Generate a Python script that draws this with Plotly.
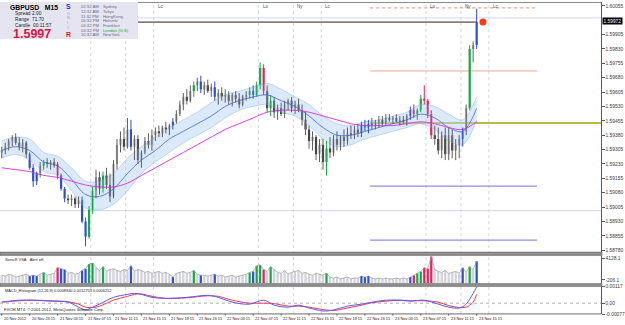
import plotly.graph_objects as go

# ------------------------------------------------------------------ data
symbol = "GBPUSD"
timeframe = "M15"
last_price_text = "1.5997"
spread = "2.00"
day_range = "71.70"
candle_timer = "00:11:57"

# 30-minute candles (two M15 bars each), 20 Nov 2012 ~19:00 -> 23 Nov 2012 15:15
opens = [1.5929,1.5930,1.5932,1.5935,1.5937,1.5934,1.5932,1.5934,1.5928,1.5921,
1.5914,1.5918,1.5922,1.5924,1.5923,1.5924,1.5923,1.5917,1.5910,1.5905,
1.5904,1.5905,1.5902,1.5904,1.5893,1.5885,1.5899,1.5909,1.5916,1.5910,
1.5917,1.5912,1.5906,1.5923,1.5933,1.5936,1.5932,1.5941,1.5932,1.5936,
1.5925,1.5929,1.5935,1.5933,1.5938,1.5940,1.5939,1.5942,1.5941,1.5943,
1.5945,1.5949,1.5954,1.5958,1.5956,1.5961,1.5964,1.5966,1.5962,1.5964,
1.5961,1.5963,1.5958,1.5960,1.5958,1.5959,1.5956,1.5959,1.5957,1.5954,
1.5958,1.5959,1.5961,1.5959,1.5964,1.5973,1.5961,1.5952,1.5956,1.5950,
1.5952,1.5949,1.5954,1.5956,1.5952,1.5954,1.5951,1.5946,1.5941,1.5935,
1.5937,1.5928,1.5933,1.5924,1.5931,1.5929,1.5936,1.5933,1.5937,1.5935,
1.5939,1.5938,1.5941,1.5939,1.5943,1.5942,1.5944,1.5943,1.5945,1.5946,
1.5944,1.5947,1.5946,1.5947,1.5945,1.5946,1.5945,1.5948,1.5951,1.5949,
1.5951,1.5957,1.5956,1.5949,1.5938,1.5936,1.5930,1.5938,1.5928,1.5938,
1.5930,1.5933,1.5936,1.5940,1.5952,1.5983,1.5985]
highs = [1.5932,1.5934,1.5936,1.5938,1.5939,1.5937,1.5936,1.5935,1.5929,1.5923,
1.5919,1.5924,1.5925,1.5926,1.5925,1.5926,1.5924,1.5918,1.5911,1.5907,
1.5907,1.5906,1.5906,1.5906,1.5895,1.5901,1.5911,1.5920,1.5919,1.5919,
1.5921,1.5918,1.5925,1.5936,1.5940,1.5942,1.5947,1.5946,1.5938,1.5938,
1.5930,1.5937,1.5939,1.5941,1.5942,1.5943,1.5943,1.5945,1.5944,1.5947,
1.5951,1.5956,1.5960,1.5962,1.5964,1.5966,1.5968,1.5969,1.5966,1.5967,
1.5965,1.5966,1.5962,1.5963,1.5962,1.5961,1.5960,1.5961,1.5960,1.5959,
1.5961,1.5963,1.5964,1.5966,1.5976,1.5975,1.5964,1.5959,1.5958,1.5954,
1.5955,1.5956,1.5957,1.5958,1.5956,1.5957,1.5954,1.5950,1.5943,1.5940,
1.5938,1.5936,1.5936,1.5935,1.5937,1.5938,1.5940,1.5938,1.5941,1.5942,
1.5943,1.5943,1.5944,1.5945,1.5946,1.5946,1.5947,1.5946,1.5948,1.5948,
1.5949,1.5949,1.5948,1.5949,1.5948,1.5948,1.5949,1.5953,1.5954,1.5952,
1.5959,1.5964,1.5957,1.5951,1.5943,1.5942,1.5940,1.5942,1.5942,1.5941,
1.5936,1.5938,1.5942,1.5954,1.5985,1.5987,1.6004]
lows = [1.5926,1.5928,1.5930,1.5932,1.5933,1.5930,1.5929,1.5926,1.5920,1.5911,
1.5912,1.5916,1.5920,1.5921,1.5920,1.5921,1.5915,1.5909,1.5903,1.5902,
1.5901,1.5900,1.5900,1.5892,1.5880,1.5884,1.5897,1.5905,1.5907,1.5908,
1.5910,1.5903,1.5905,1.5920,1.5929,1.5930,1.5931,1.5930,1.5925,1.5923,
1.5921,1.5928,1.5931,1.5930,1.5935,1.5937,1.5937,1.5939,1.5938,1.5941,
1.5944,1.5948,1.5951,1.5954,1.5955,1.5958,1.5961,1.5960,1.5959,1.5960,
1.5958,1.5956,1.5954,1.5956,1.5955,1.5954,1.5953,1.5955,1.5952,1.5953,
1.5956,1.5957,1.5957,1.5958,1.5962,1.5959,1.5950,1.5948,1.5947,1.5946,
1.5948,1.5947,1.5951,1.5950,1.5949,1.5950,1.5943,1.5938,1.5931,1.5930,
1.5925,1.5924,1.5920,1.5917,1.5926,1.5927,1.5930,1.5930,1.5932,1.5933,
1.5936,1.5936,1.5937,1.5937,1.5940,1.5939,1.5941,1.5941,1.5942,1.5943,
1.5943,1.5945,1.5944,1.5945,1.5943,1.5944,1.5943,1.5946,1.5947,1.5946,
1.5950,1.5954,1.5947,1.5936,1.5933,1.5928,1.5926,1.5925,1.5925,1.5926,
1.5925,1.5926,1.5932,1.5938,1.5951,1.5976,1.5983]
closes = [1.5930,1.5932,1.5935,1.5937,1.5934,1.5932,1.5934,1.5928,1.5921,1.5914,
1.5918,1.5922,1.5924,1.5923,1.5924,1.5922,1.5917,1.5910,1.5905,1.5904,
1.5905,1.5902,1.5904,1.5893,1.5885,1.5899,1.5909,1.5916,1.5910,1.5917,
1.5912,1.5906,1.5923,1.5933,1.5936,1.5932,1.5941,1.5932,1.5936,1.5925,
1.5929,1.5935,1.5933,1.5938,1.5940,1.5939,1.5942,1.5941,1.5943,1.5945,
1.5949,1.5954,1.5958,1.5956,1.5961,1.5964,1.5966,1.5962,1.5964,1.5961,
1.5963,1.5958,1.5960,1.5958,1.5959,1.5956,1.5959,1.5957,1.5954,1.5958,
1.5959,1.5961,1.5959,1.5964,1.5973,1.5961,1.5952,1.5956,1.5950,1.5952,
1.5949,1.5954,1.5956,1.5952,1.5954,1.5951,1.5946,1.5941,1.5935,1.5937,
1.5928,1.5933,1.5924,1.5931,1.5929,1.5936,1.5933,1.5937,1.5935,1.5939,
1.5938,1.5941,1.5939,1.5943,1.5942,1.5944,1.5943,1.5945,1.5946,1.5944,
1.5947,1.5946,1.5947,1.5945,1.5946,1.5945,1.5948,1.5951,1.5949,1.5951,
1.5957,1.5956,1.5949,1.5938,1.5936,1.5930,1.5938,1.5928,1.5938,1.5930,
1.5933,1.5936,1.5940,1.5952,1.5983,1.5985,1.5997]

# Sonic R VSA bar signal per candle: n = none, b = blue, g = green, r = red
vsa = ("nnnnnnnn" "bbb" "n" "g" "nnn" "r" "bb" "nnnn" "bb" "gg" "nn" "g"
       "nnnnnnn" "b" "nnnnnnnnnnn" "b" "nnnnn" "g" "n" "b" "nnn" "b"
       "nnnnnnnnn" "g" "b" "gg" "r" "n" "g" "nnnnnnnnnnnnnnn" "g"
       "nnnnnnnnn" "bbb" "nnnnnnnnnnn" "b" "r" "gg" "rrr" "nnnnnnnn"
       "b" "n" "g" "n" "b")

volume = [736,548,924,736,359,548,736,924,548,736,
548,924,1301,736,924,1113,2243,2055,1866,1113,
1301,924,1113,1678,2055,2997,3185,2243,1678,2432,
1490,1866,2055,1678,1490,1866,1678,2620,1490,1866,
1678,1301,1490,1113,1301,1490,1113,1301,924,359,
1113,1301,1490,1113,1301,1678,924,736,736,548,
736,924,548,736,359,548,736,359,548,736,
924,1301,1490,2620,2808,1866,1490,2432,1866,1301,
1113,1678,924,1301,1490,1678,1113,1301,924,736,
1113,924,736,1113,359,171,359,-18,171,359,
-18,171,171,548,359,548,171,-18,171,-18,
171,-18,-18,171,-18,171,-18,359,736,1113,
1490,2243,2055,4504,1866,1490,1301,1678,1113,1301,
1490,1113,2243,1301,2432,1866,3562]

# moving averages sampled every 4th candle
ma_idx = [0,4,8,12,16,20,24,28,32,36,40,44,48,52,56,60,64,68,72,76,80,84,
          88,92,96,100,104,108,112,116,120,124,128,132,136]
ma_fast = [1.5930,1.5932,1.5930,1.5924,1.5922,1.5915,1.5907,1.5906,1.5910,1.5918,
           1.5925,1.5930,1.5936,1.5940,1.5944,1.5948,1.5953,1.5956,1.5958,1.5959,
           1.5956,1.5953,1.5948,1.5942,1.5938,1.5938,1.5940,1.5942,1.5944,1.5946,
           1.5949,1.5947,1.5942,1.5940,1.5952]
band_up = [1.5935,1.5937,1.5936,1.5929,1.5927,1.5921,1.5914,1.5914,1.5918,1.5926,
           1.5932,1.5937,1.5942,1.5946,1.5950,1.5955,1.5959,1.5961,1.5963,1.5965,
           1.5962,1.5958,1.5954,1.5948,1.5944,1.5943,1.5945,1.5946,1.5948,1.5950,
           1.5954,1.5953,1.5949,1.5946,1.5958]
band_dn = [1.5926,1.5928,1.5925,1.5919,1.5917,1.5909,1.5900,1.5899,1.5902,1.5909,
           1.5918,1.5924,1.5929,1.5934,1.5938,1.5942,1.5947,1.5951,1.5953,1.5954,
           1.5950,1.5948,1.5943,1.5936,1.5932,1.5933,1.5936,1.5938,1.5940,1.5942,
           1.5944,1.5941,1.5935,1.5933,1.5946]
ma_slow = [1.5921,1.5920,1.5919,1.5917,1.5916,1.5914,1.5912,1.5911,1.5911,1.5913,
           1.5917,1.5921,1.5925,1.5929,1.5933,1.5937,1.5941,1.5944,1.5947,1.5950,
           1.5951,1.5951,1.5950,1.5948,1.5946,1.5944,1.5943,1.5943,1.5943,1.5944,
           1.5945,1.5944,1.5942,1.5941,1.5945]

macd_idx = [0,5,9,14,19,22,24,26,28,32,36,38,40,43,47,53,59,62,66,71,75,78,82,85,
            88,92,95,99,103,106,110,114,117,121,125,128,131,133,134,135,136]
macd_main = [0.00007,0.00021,0.00021,0.00014,0.00007,-0.00028,-0.00048,-0.00028,
             -0.00007,0.00041,0.00062,0.00069,0.00062,0.00041,0.00034,0.00041,
             0.00055,0.00041,0.00007,-0.00007,0.00021,-0.00014,-0.00028,-0.00014,
             -0.00034,-0.00055,-0.00048,-0.00021,-0.00007,0.00007,0.00021,0.00021,
             0.00014,0.00021,-0.00007,-0.00028,-0.00034,-0.00007,0.00028,0.00069,
             0.00116]
macd_signal = [0.00007,0.00017,0.00021,0.00017,0.00010,-0.00007,-0.00028,-0.00031,
               -0.00021,0.00021,0.00048,0.00062,0.00065,0.00048,0.00034,0.00038,
               0.00052,0.00048,0.00021,0.00000,0.00000,-0.00003,-0.00021,-0.00021,
               -0.00028,-0.00045,-0.00052,-0.00034,-0.00014,0.00003,0.00014,0.00021,
               0.00017,0.00017,0.00007,-0.00017,-0.00031,-0.00028,-0.00014,0.00007,
               0.00062]

price_ticks = [1.58780,1.58855,1.58930,1.59005,1.59080,1.59155,1.59230,1.59305,
               1.59380,1.59455,1.59530,1.59605,1.59680,1.59755,1.59830,1.59905,
               1.59980,1.60055]
time_labels = ["20 Nov 2012","20 Nov 23:15","21 Nov 03:15","21 Nov 07:15","21 Nov 11:15",
               "21 Nov 15:15","21 Nov 19:15","21 Nov 23:15","22 Nov 03:15","22 Nov 07:15",
               "22 Nov 11:15","22 Nov 15:15","22 Nov 19:15","22 Nov 23:15","23 Nov 03:15",
               "23 Nov 07:15","23 Nov 11:15","23 Nov 15:15"]
time_label_bars = [1,17,33,49,65,81,97,113,129,145,161,177,193,209,225,241,257,273]

sessions = [("Lo",52),("Ny",72),("Lc",88),("Lo",148),("Ny",168),("Lc",184),
            ("Lo",244),("Ny",264),("Lc",280)]
pivot_levels = [1.60044, 1.59715, 1.59443, 1.59114, 1.58832]
ask_price = 1.59992
level_line = 1.58986
bid_label = "1.59972"

clock_times = ["02:32 AM","12:32 AM","11:32 PM","05:32 PM","04:32 PM","03:32 PM","10:32 AM"]
clock_cities = ["Sydney","Tokyo","HongKong","Helsinki","Frankfurt","London (G.S)","NewYork"]

# ------------------------------------------------------------------ geometry helpers
W, H = 625, 325
BARPX = 1.746
XMAX = 601 / BARPX
PMAX = 1.60075
PMIN = PMAX - 253.5 * 0.00005138
VMIN, VMAX = -959.8, 4693.3
FONT = "Liberation Sans"


def fx(x):
    return x / W


def fy(y):
    return 1 - y / H


n = len(closes)
xb = [1 + 2 * i for i in range(n)]
codes = (vsa + "n" * n)[:n]
SIG = {"b": "#2f4fd6", "g": "#17a84a", "r": "#e2245c"}

fig = go.Figure()

# ---- blue envelope and moving averages
ma_x = [xb[i] for i in ma_idx]
fig.add_trace(go.Scatter(x=ma_x, y=band_dn, mode="lines", line=dict(color="rgba(140,182,238,0.85)", width=0.6, shape="spline"),
                         xaxis="x", yaxis="y", hoverinfo="skip"))
fig.add_trace(go.Scatter(x=ma_x, y=band_up, mode="lines", fill="tonexty", fillcolor="rgba(180,211,246,0.48)",
                         line=dict(color="rgba(140,182,238,0.85)", width=0.6, shape="spline"),
                         xaxis="x", yaxis="y", hoverinfo="skip"))
fig.add_trace(go.Scatter(x=ma_x, y=ma_fast, mode="lines", line=dict(color="#5672e0", width=0.9, shape="spline"),
                         xaxis="x", yaxis="y", hoverinfo="skip"))
fig.add_trace(go.Scatter(x=ma_x, y=ma_slow, mode="lines", line=dict(color="#e03ee6", width=1, shape="spline"),
                         xaxis="x", yaxis="y", hoverinfo="skip"))

# ---- bid line to last candle and red marker
fig.add_trace(go.Scatter(x=[0, xb[-1]], y=[closes[-1], closes[-1]], mode="lines",
                         line=dict(color="#8a7c7c", width=1.6), xaxis="x", yaxis="y", hoverinfo="skip"))

# ---- candles: wicks
groups = {}
for i in range(n):
    k = codes[i] if codes[i] in SIG else "n"
    groups.setdefault(k, ([], []))
    groups[k][0].extend([xb[i], xb[i], None])
    groups[k][1].extend([lows[i], highs[i], None])
for k, (gx, gy) in groups.items():
    fig.add_trace(go.Scatter(x=gx, y=gy, mode="lines", line=dict(color=SIG.get(k, "#5e5e5e"), width=1),
                             xaxis="x", yaxis="y", hoverinfo="skip"))

# ---- candles: bodies
body_base, body_h, body_col = [], [], []
for i in range(n):
    o, c = opens[i], closes[i]
    body_base.append(min(o, c))
    body_h.append(max(abs(c - o), 0.00003))
    if codes[i] in SIG:
        body_col.append(SIG[codes[i]])
    else:
        body_col.append("#a6a6a6" if c >= o else "#333333")
fig.add_trace(go.Bar(x=xb, y=body_h, base=body_base, width=1.25, marker=dict(color=body_col, line=dict(width=0)),
                     xaxis="x", yaxis="y", hoverinfo="skip"))

fig.add_trace(go.Scatter(x=[xb[-1] + 3.6], y=[closes[-1]], mode="markers",
                         marker=dict(color="#ff3a1a", size=7), xaxis="x", yaxis="y", hoverinfo="skip"))

# ---- volume panel
vcol = [SIG.get(c, "#d2d2dc") for c in codes]
fig.add_trace(go.Bar(x=xb, y=[v - VMIN for v in volume], base=VMIN, width=1.3,
                     marker=dict(color=vcol, line=dict(width=0)), xaxis="x2", yaxis="y2", hoverinfo="skip"))
fig.add_trace(go.Scatter(x=xb, y=volume, mode="lines", line=dict(color="#9a9a9a", width=0.7),
                         xaxis="x2", yaxis="y2", hoverinfo="skip"))

# ---- MACD panel
mx = [xb[i] for i in macd_idx]
fig.add_trace(go.Scatter(x=mx, y=macd_signal, mode="lines", line=dict(color="#f03a4e", width=1, shape="spline"),
                         xaxis="x3", yaxis="y3", hoverinfo="skip"))
fig.add_trace(go.Scatter(x=mx, y=macd_main, mode="lines", line=dict(color="#5a5af2", width=1, shape="spline"),
                         xaxis="x3", yaxis="y3", hoverinfo="skip"))

# ------------------------------------------------------------------ shapes
shapes = []
# session separators (dotted, full height)
for name, b in sessions:
    shapes.append(dict(type="line", xref="x", yref="paper", x0=b, x1=b, y0=fy(317), y1=fy(0),
                       line=dict(color="#d2d2de", width=1, dash="dot"), layer="below"))
# full width lines
shapes.append(dict(type="line", xref="paper", yref="y", x0=0, x1=fx(601), y0=ask_price, y1=ask_price,
                   line=dict(color="#d6d6ee", width=1), layer="below"))
shapes.append(dict(type="line", xref="paper", yref="y", x0=0, x1=fx(601), y0=level_line, y1=level_line,
                   line=dict(color="#d2d2f2", width=1), layer="below"))
# pivot levels
pv_styles = [("#f2a090", "dot", 1.2, 307.5), ("#f4a494", "solid", 1, 307.5), ("#a6a200", "solid", 1.5, XMAX),
             ("#8e8ee6", "solid", 1.2, 307.5), ("#8e8ee6", "solid", 1.2, 307.5)]
for lvl, (col, dash, wd, xend) in zip(pivot_levels, pv_styles):
    shapes.append(dict(type="line", xref="x", yref="y", x0=212, x1=xend, y0=lvl, y1=lvl,
                       line=dict(color=col, width=wd, dash=dash), layer="below"))
# MACD zero line
shapes.append(dict(type="line", xref="paper", yref="y3", x0=0, x1=fx(601), y0=0, y1=0,
                   line=dict(color="#b0b0b0", width=1, dash="dot"), layer="below"))
# panel separators and borders
for y0, y1 in [(254, 257.5), (286, 289)]:
    shapes.append(dict(type="rect", xref="paper", yref="paper", x0=0, x1=fx(602), y0=fy(y1), y1=fy(y0),
                       fillcolor="#8e8e8e", line=dict(color="#6a6a6a", width=0.6), layer="above"))
shapes.append(dict(type="line", xref="paper", yref="paper", x0=0, x1=fx(601), y0=fy(0.5), y1=fy(0.5),
                   line=dict(color="#8a8a8a", width=1), layer="above"))
shapes.append(dict(type="line", xref="paper", yref="paper", x0=0, x1=fx(601), y0=fy(316.8), y1=fy(316.8),
                   line=dict(color="#6a6a6a", width=1), layer="above"))
for b in time_label_bars:
    shapes.append(dict(type="line", xref="x3", yref="paper", x0=b, x1=b, y0=fy(318.5), y1=fy(316.8),
                       line=dict(color="#555555", width=1), layer="above"))
# info panel background
shapes.append(dict(type="rect", xref="paper", yref="paper", x0=0, x1=fx(138), y0=fy(37.5), y1=fy(0),
                   fillcolor="#e5e5f1", line=dict(width=0), layer="above"))

# ------------------------------------------------------------------ annotations
ann = []


def txt(x, y, s, size, color="#222222", bold=False, xanchor="left", xref="paper", **kw):
    ann.append(dict(x=x if xref != "paper" else fx(x), y=fy(y), xref=xref, yref="paper", text=s,
                    showarrow=False, xanchor=xanchor, yanchor="middle",
                    font=dict(family=FONT, size=size, color=color,
                              weight="bold" if bold else "normal"), **kw))


# info panel
txt(8, 5.5, f"{symbol}&nbsp;&nbsp;&nbsp;{timeframe}", 6.8, "#000000", True)
txt(13, 12, "Spread", 4.8, "#222222")
txt(30, 12, spread, 4.8, "#222222")
txt(13, 18, "Range", 4.8, "#222222")
txt(30, 18, day_range, 4.8, "#222222")
txt(13, 24, "Candle", 4.8, "#222222")
txt(31, 24, candle_timer, 4.8, "#222222")
txt(11, 32, last_price_text, 12.5, "#dc1440", True)
txt(63.5, 4.8, "S", 6.8, "#1e2ad8", True)
for j, (ch, col) in enumerate(zip("ONIC", ["#a8aef4", "#b6a8f0", "#c8a8e8", "#f0a8b4"])):
    txt(64.5, 11.2 + j * 4.9, ch, 4.0, col, True)
txt(63.5, 33.5, "R", 6.8, "#e0141c", True)
for j, (t, c) in enumerate(zip(clock_times, clock_cities)):
    yy = 5 + j * 4.7
    txt(79, yy, t, 4.2, "#6a6a7a")
    txt(101, yy, c, 4.2, "#1aa52a" if c.startswith("London") else "#6a6a7a")

# session labels (those under the info panel are hidden)
for name, b in sessions:
    if b * BARPX > 140:
        txt(b + 1.2, 5, name, 4.5, "#4a4a6a", xref="x")

# panel captions
txt(3, 262, "SonicR VSA&nbsp;&nbsp;&nbsp;Alert off.", 3.9, "#202020")
txt(3, 293, "MACD_Histogram (12,26,9) 0.0008940 0.0012753 0.0006212", 3.9, "#202020")
txt(2, 312, "FXCM MT4, © 2001-2012, MetaQuotes Software Corp.", 4.1, "#202020")

# time labels
for lab, b in zip(time_labels, time_label_bars):
    txt(b, 321, lab, 3.9, "#202020", xref="x3")

# current price box (the axis label it covers is left out)
ann.append(dict(x=fx(601.5), y=fy(19.5), xref="paper", yref="paper", text=bid_label, showarrow=False,
                xanchor="left", yanchor="middle", bgcolor="#000000", borderpad=0.6,
                font=dict(family=FONT, size=4.8, color="#ffffff")))

# ------------------------------------------------------------------ layout
axis_common = dict(showgrid=False, zeroline=False, showticklabels=False, range=[0, XMAX],
                   domain=[0, fx(601)], fixedrange=True)
yfont = dict(family=FONT, size=4.9, color="#3a3a3a")
ycommon = dict(side="right", showgrid=False, zeroline=False, showline=True, linecolor="#5a5a5a",
               linewidth=1, ticks="outside", ticklen=2.5, tickcolor="#5a5a5a", tickfont=yfont,
               fixedrange=True)

shown_ticks = [p for p in price_ticks if abs(p - closes[-1]) > 0.0002]

fig.update_layout(
    width=W, height=H, margin=dict(l=0, r=0, t=0, b=0), paper_bgcolor="#ffffff", plot_bgcolor="#ffffff",
    showlegend=False, hovermode=False, barmode="overlay",
    xaxis=dict(anchor="y", **axis_common),
    xaxis2=dict(anchor="y2", matches="x", **axis_common),
    xaxis3=dict(anchor="y3", matches="x", **axis_common),
    yaxis=dict(anchor="x", domain=[fy(253.5), 1], range=[PMIN, PMAX], tickvals=shown_ticks,
               ticktext=[f"{p:.5f}" for p in shown_ticks], **ycommon),
    yaxis2=dict(anchor="x2", domain=[fy(286), fy(257.5)], range=[VMIN, VMAX], tickvals=[4128.1, -206.1],
                ticktext=["4128.1", "-206.1"], **ycommon),
    yaxis3=dict(anchor="x3", domain=[fy(317), fy(289)], range=[-0.000772, 0.001172],
                tickvals=[0.00117, 0.0, -0.00077], ticktext=["0.00117", "0.00", "-0.00077"], **ycommon),
    shapes=shapes, annotations=ann,
)

fig.write_html("out.html", config={"displayModeBar": False, "staticPlot": True})
